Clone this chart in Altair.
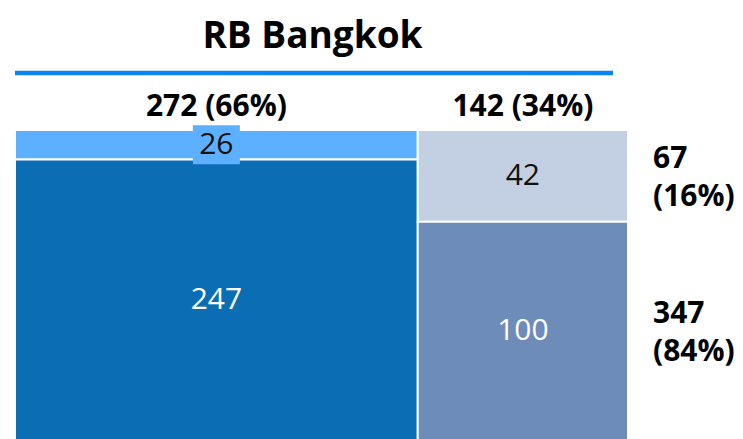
import altair as alt
import pandas as pd

# ---- data ----
title_text = "RB Bangkok"
col_names = ["Group A", "Group B"]
col_totals = [272, 142]
col_pcts = [66, 34]
row_names = ["Top", "Bottom"]
row_totals = [67, 347]
row_pcts = [16, 84]
top_values = [26, 42]
bottom_values = [247, 100]

# ---- styles ----
cell_colors = ["#5DB0FF", "#0B6DB3", "#C3CFE2", "#6E8CB9"]
text_colors = ["#111111", "#FFFFFF", "#111111", "#FFFFFF"]
FONT = "Open Sans"

rows = []
x0 = 0
for i, c in enumerate(col_names):
    x1 = x0 + col_totals[i]
    vals = [top_values[i], bottom_values[i]]
    s = sum(vals)
    y0 = 0.0
    for j, v in enumerate(vals):
        y1 = y0 + v / s
        rows.append(dict(col=c, row=row_names[j], cell=f"{c}-{row_names[j]}",
                         value=v, label=str(v), x0=x0, x1=x1, xm=(x0 + x1) / 2,
                         y0=y0, y1=y1, ym=(y0 + y1) / 2))
        y0 = y1
    x0 = x1
cells = pd.DataFrame(rows)
total = sum(col_totals)

col_df = pd.DataFrame({
    "col": col_names,
    "xm": cells.groupby("col", sort=False)["xm"].first().values,
    "label": [f"{t} ({p}%)" for t, p in zip(col_totals, col_pcts)],
    "y": [0, 0],
})
last_col = cells[cells["col"] == col_names[-1]]
row_df = pd.DataFrame({
    "row": row_names,
    "x": [total, total],
    "ym": last_col["ym"].values,
    "label": [f"{t}\n({p}%)" for t, p in zip(row_totals, row_pcts)],
})

W, H = 613, 310
xs = alt.Scale(domain=[0, total], nice=False, zero=False)
ys = alt.Scale(domain=[0, 1], nice=False, zero=False, reverse=True)
cscale = alt.Scale(domain=list(cells["cell"]), range=cell_colors)
tscale = alt.Scale(domain=list(cells["cell"]), range=text_colors)

rects = alt.Chart(cells).mark_rect(stroke="white", strokeWidth=2).encode(
    x=alt.X("x0:Q", scale=xs, axis=None),
    x2="x1:Q",
    y=alt.Y("y0:Q", scale=ys, axis=None),
    y2="y1:Q",
    fill=alt.Fill("cell:N", scale=cscale, legend=None),
)

boxes = alt.Chart(cells).mark_rect(width=47, height=39).encode(
    x=alt.X("xm:Q", scale=xs, axis=None),
    y=alt.Y("ym:Q", scale=ys, axis=None),
    fill=alt.Fill("cell:N", scale=cscale, legend=None),
)

labels = alt.Chart(cells).mark_text(font=FONT, fontSize=30, baseline="middle", align="center").encode(
    x=alt.X("xm:Q", scale=xs, axis=None),
    y=alt.Y("ym:Q", scale=ys, axis=None),
    text="label:N",
    color=alt.Color("cell:N", scale=tscale, legend=None),
)

col_labels = alt.Chart(col_df).mark_text(font=FONT, fontSize=30, fontWeight="bold",
                                         baseline="alphabetic", align="center", dy=-14,
                                         color="#000000").encode(
    x=alt.X("xm:Q", scale=xs, axis=None),
    y=alt.Y("y:Q", scale=ys, axis=None),
    text="label:N",
)

row_labels = alt.Chart(row_df).mark_text(font=FONT, fontSize=30, fontWeight="bold",
                                         baseline="middle", align="left", dx=25, dy=-17,
                                         lineBreak="\n", lineHeight=38,
                                         color="#000000").encode(
    x=alt.X("x:Q", scale=xs, axis=None),
    y=alt.Y("ym:Q", scale=ys, axis=None),
    text="label:N",
)

rule = alt.Chart(pd.DataFrame({"a": [0]})).mark_rule(color="#0A84F4", strokeWidth=4.5).encode(
    x=alt.value(0), x2=alt.value(598), y=alt.value(-57))

chart = alt.layer(rects, boxes, labels, col_labels, row_labels, rule).resolve_scale(
    color="independent", fill="independent"
).properties(
    width=W, height=H,
    title=alt.TitleParams(text=title_text, font=FONT, fontSize=37, fontWeight="bold",
                          color="#000000", anchor="middle", dx=-9, offset=-22,
                          baseline="bottom"),
    autosize=alt.AutoSizeParams(type="none"),
    padding={"left": 7, "top": 122, "right": 107, "bottom": 0},
).configure_view(stroke=None)

chart.save("out.html", embed_options={"renderer": "svg", "actions": False})
